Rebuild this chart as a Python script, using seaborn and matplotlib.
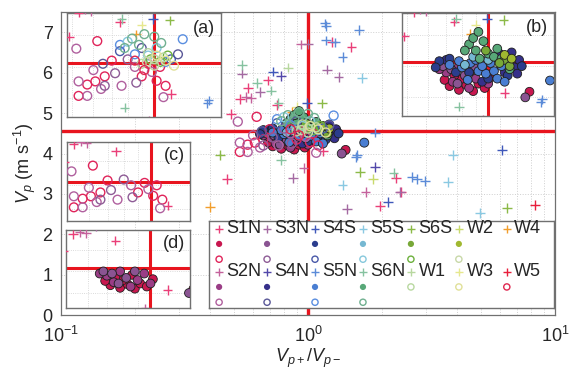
import matplotlib
matplotlib.use("Agg")
import numpy as np
import pandas as pd
import matplotlib.pyplot as plt
import seaborn as sns
from matplotlib.ticker import MultipleLocator, NullFormatter

# stations in legend order (matplotlib-style: 2 rows, filled column-wise)
STATIONS = ["S1N", "S2N", "S3N", "S4N", "S4S", "S5N", "S5S",
            "S6N", "S6S", "W1", "W2", "W3", "W4", "W5"]

PLUS_COLORS = ["#ea3f78", "#c4629c", "#a46aa2", "#5248aa", "#3f58ba", "#5b8bd8", "#8ac9e2",
               "#86c2a0", "#8cba48", "#b8d8a0", "#c8da6c", "#e6e88e", "#f29e2c", "#e81f3c"]
FILL_COLORS = ["#c8174f", "#9a3d86", "#8a5492", "#36308a", "#2b3d8d", "#4a7ed2", "#76b8d2",
               "#58a878", "#78a838", None, "#a0b830", None, None, None]
OPEN_COLORS = ["#e0245a", "#b0609e", "#8e5c96", "#5a5898", "#4858a8", "#5a8ee0", "#86c8dc",
               "#70b090", "#6cb03c", "#b8d8a0", "#c8d8a8", "#e0e098", None, "#e02850"]

RATIO_MEDIAN = 1.0   # Vp+/Vp-
VP_MEDIAN = 4.57     # m/s

# (Vp+/Vp-, Vp)
S1N_PLUS = [(0.53, 5.36), (0.57, 5.63), (0.69, 5.81), (1.25, 6.77), (1.5, 6.63), (0.75, 5.21),
            (2.28, 3.4), (1.96, 2.7), (0.47, 3.37), (2.38, 3.05), (1.15, 4.07), (0.49, 4.98)]
S1N_FILL = [(0.72, 4.18), (0.78, 4.12), (0.83, 4.2), (0.88, 4.1), (0.69, 4.28), (0.92, 4.22),
            (1.42, 4.09), (0.8, 4.3), (0.75, 4.35), (0.97, 4.15), (1.02, 4.32), (0.86, 4.42)]
S1N_OPEN = [(0.62, 4.91), (0.57, 4.22), (0.61, 4.27), (0.53, 4.04), (0.66, 4.35), (0.7, 4.6),
            (0.95, 4.55), (1.05, 4.5), (0.9, 4.35), (1.02, 4.28), (1.1, 4.2)]

S2N_PLUS = [(0.56, 5.41), (0.59, 5.38), (0.94, 6.7), (1.71, 3.05), (0.96, 3.65)]
S2N_FILL = [(0.74, 4.25), (0.7, 4.4), (0.85, 4.15), (0.9, 4.3), (0.66, 4.45), (0.95, 4.45),
            (0.78, 4.5), (1.0, 4.22)]
S2N_OPEN = [(0.53, 4.27), (0.57, 4.04), (0.52, 4.79), (0.64, 4.15), (0.6, 4.45), (0.76, 4.2),
            (0.85, 4.5), (0.98, 4.42), (1.08, 4.02)]

S3N_PLUS = [(0.54, 5.98), (0.64, 5.53), (1.0, 6.72), (1.19, 6.08), (1.33, 5.9), (0.87, 3.4),
            (1.44, 2.63), (2.36, 3.05)]
S3N_FILL = [(0.68, 4.5), (0.73, 4.45), (0.77, 4.22), (0.82, 4.35), (1.37, 4.0), (0.88, 4.5)]
S3N_OPEN = [(0.66, 4.2), (0.72, 4.4), (0.86, 4.25), (0.8, 4.62)]

S4N_PLUS = [(1.87, 3.67), (0.78, 5.93)]
S4N_FILL = [(1.2, 4.55), (1.25, 4.48), (1.3, 4.6), (1.15, 4.4), (1.1, 4.7), (0.7, 4.6),
            (1.28, 4.38), (0.95, 4.25), (1.22, 4.72)]
S4N_OPEN = [(1.22, 4.7), (0.9, 4.8), (0.65, 4.55)]

S4S_PLUS = [(0.72, 6.03), (0.99, 5.26), (2.11, 2.8), (6.1, 4.09)]
S4S_FILL = [(0.66, 4.58), (0.64, 4.48), (0.72, 4.62), (1.18, 4.35), (1.33, 4.5), (1.0, 4.3),
            (0.85, 4.4), (0.76, 4.4)]
S4S_OPEN = [(0.75, 4.75), (1.15, 4.62)]

S5N_PLUS = [(1.17, 7.22), (1.18, 7.15), (1.61, 7.05), (1.18, 6.8), (1.29, 6.75), (1.38, 6.4),
            (1.87, 4.52), (1.58, 3.97), (1.56, 3.92), (2.64, 3.42), (2.77, 3.37), (2.98, 3.32)]
S5N_FILL = [(0.8, 4.48), (0.86, 4.55), (0.92, 4.42), (0.98, 4.38), (0.78, 4.58), (0.9, 4.6),
            (1.05, 4.42), (1.08, 4.3), (1.69, 4.27), (0.84, 4.28), (0.95, 4.5), (1.12, 4.5),
            (0.72, 4.52), (1.15, 4.25), (1.02, 4.55)]
S5N_OPEN = [(0.75, 4.85), (1.27, 4.94), (0.85, 4.7), (1.1, 4.58)]

S5S_PLUS = [(1.66, 5.88), (3.87, 3.97), (3.69, 3.3), (4.97, 2.53), (1.38, 3.23)]
S5S_FILL = [(0.88, 4.65), (1.0, 4.6), (0.82, 4.52)]
S5S_OPEN = [(0.8, 4.9), (0.95, 4.68), (1.02, 4.8)]

S6N_PLUS = [(0.54, 6.2), (0.62, 5.75), (0.71, 5.56), (0.76, 5.26), (0.78, 3.85), (2.22, 3.52)]
S6N_FILL = [(0.85, 4.85), (0.9, 4.75), (0.96, 4.9), (1.0, 4.7), (0.93, 4.62), (1.05, 4.65),
            (0.88, 4.95), (1.08, 4.78), (0.82, 4.75), (0.92, 5.05), (1.12, 4.62), (1.2, 4.45)]
S6N_OPEN = [(0.83, 4.95), (0.92, 5.02), (1.0, 4.98), (0.78, 4.8), (1.06, 4.88), (0.88, 4.85)]

S6S_PLUS = [(1.14, 5.24), (0.44, 3.97), (1.63, 3.55), (6.4, 2.65)]
S6S_FILL = [(1.15, 4.6), (1.2, 4.5), (1.1, 4.55), (0.98, 4.75)]
S6S_OPEN = [(1.05, 4.58), (1.12, 4.68), (0.97, 4.62)]

W1_PLUS = [(0.83, 6.13)]
W1_OPEN = [(0.9, 4.55), (1.0, 4.62), (0.95, 4.72), (1.08, 4.65)]

W2_PLUS = [(1.84, 3.37)]
W2_FILL = [(1.15, 4.68), (1.22, 4.62)]
W2_OPEN = [(0.94, 4.58), (1.0, 4.52)]

W3_PLUS = [(0.9, 5.16)]
W3_OPEN = [(1.1, 4.6), (1.02, 4.68), (1.18, 4.52)]

W4_PLUS = [(0.40, 2.68), (0.86, 5.02)]

W5_PLUS = [(8.3, 2.73)]
W5_OPEN = [(0.92, 4.45), (0.85, 4.6)]

PLUS = [S1N_PLUS, S2N_PLUS, S3N_PLUS, S4N_PLUS, S4S_PLUS, S5N_PLUS, S5S_PLUS,
        S6N_PLUS, S6S_PLUS, W1_PLUS, W2_PLUS, W3_PLUS, W4_PLUS, W5_PLUS]
FILL = [S1N_FILL, S2N_FILL, S3N_FILL, S4N_FILL, S4S_FILL, S5N_FILL, S5S_FILL,
        S6N_FILL, S6S_FILL, [], W2_FILL, [], [], []]
OPEN = [S1N_OPEN, S2N_OPEN, S3N_OPEN, S4N_OPEN, S4S_OPEN, S5N_OPEN, S5S_OPEN,
        S6N_OPEN, S6S_OPEN, W1_OPEN, W2_OPEN, W3_OPEN, [], W5_OPEN]

rows = []
for st, p, f, o in zip(STATIONS, PLUS, FILL, OPEN):
    for kind, pts in (("plus", p), ("fill", f), ("open", o)):
        for x, y in pts:
            rows.append((st, kind, x, y))
df = pd.DataFrame(rows, columns=["station", "kind", "ratio", "vp"])

plus_pal = dict(zip(STATIONS, PLUS_COLORS))
fill_pal = {s: c for s, c in zip(STATIONS, FILL_COLORS) if c}
open_pal = {s: c for s, c in zip(STATIONS, OPEN_COLORS) if c}

RED = "#e8141e"
FRAME = "#707070"
GRID = "#cfcfcf"
FS = 13

sns.set_style("white")
plt.rcParams["font.family"] = ["Liberation Sans", "DejaVu Sans"]
plt.rcParams["mathtext.fontset"] = "custom"
plt.rcParams["mathtext.rm"] = "Liberation Sans"
plt.rcParams["mathtext.it"] = "Liberation Sans:italic"


def draw_points(ax, kinds, stations=STATIONS, s_plus=50, s_circ=42):
    for kind in kinds:
        sub = df[(df["kind"] == kind) & df["station"].isin(stations)]
        if sub.empty:
            continue
        if kind == "plus":
            sns.scatterplot(data=sub, x="ratio", y="vp", hue="station", palette=plus_pal,
                            marker="+", s=s_plus, linewidths=1.0, legend=False, ax=ax, zorder=3)
        elif kind == "fill":
            sns.scatterplot(data=sub, x="ratio", y="vp", hue="station", palette=fill_pal,
                            marker="o", s=s_circ, edgecolor="#1e1e1e", linewidths=0.6,
                            legend=False, ax=ax, zorder=4)
        else:
            sns.scatterplot(data=sub, x="ratio", y="vp", hue="station", palette=open_pal,
                            marker="o", s=s_circ, linewidths=1.0, legend=False, ax=ax, zorder=5)
            coll = ax.collections[-1]
            coll.set_edgecolors(coll.get_facecolors())
            coll.set_facecolors("none")


fig = plt.figure(figsize=(5.74, 3.69), dpi=100)
ax = fig.add_axes([0.106, 0.146, 0.861, 0.821])
ax.set_xscale("log")
ax.set_xlim(0.1, 10)
ax.set_ylim(0, 7.5)
ax.set_yticks(range(8))
ax.grid(True, which="both", axis="x", color=GRID, lw=0.7, ls=":")
ax.grid(True, which="major", axis="y", color=GRID, lw=0.7, ls=":")
ax.axvline(RATIO_MEDIAN, color=RED, lw=2.4, zorder=2)
ax.axhline(VP_MEDIAN, color=RED, lw=2.4, zorder=2)
draw_points(ax, ["plus", "fill", "open"])
ax.set_xlabel(r"$V_{p+}/V_{p-}$", fontsize=FS, labelpad=0)
ax.set_ylabel(r"$V_p$ (m s$^{-1}$)", fontsize=FS, labelpad=3)
ax.tick_params(which="both", direction="in", color=FRAME, labelsize=FS, width=0.8)
ax.tick_params(which="major", length=4)
ax.tick_params(which="minor", length=2)
ax.tick_params(axis="x", pad=8)
ax.tick_params(axis="y", pad=6)
ax.xaxis.set_minor_formatter(NullFormatter())
for sp in ax.spines.values():
    sp.set_color(FRAME)
    sp.set_linewidth(0.9)

# insets: (a) open circles, (b) filled circles, (c)/(d) the same for S1N-S3N
INSETS = [
    ("(a)", [0.012, 0.653, 0.312, 0.343], ["plus", "open"], STATIONS, (0.48, 1.75), (3.7, 5.35)),
    ("(b)", [0.690, 0.657, 0.308, 0.340], ["plus", "fill"], STATIONS, (0.48, 1.75), (3.7, 5.35)),
    ("(c)", [0.012, 0.310, 0.249, 0.261], ["plus", "open"], STATIONS[:3], (0.5, 1.38), (3.75, 5.4)),
    ("(d)", [0.010, 0.023, 0.251, 0.257], ["plus", "fill"], STATIONS[:3], (0.5, 1.38), (3.65, 5.45)),
]
for tag, rect, kinds, sts, xl, yl in INSETS:
    iax = ax.inset_axes(rect)
    iax.set_facecolor("white")
    iax.set_xscale("log")
    iax.set_xlim(*xl)
    iax.set_ylim(*yl)
    iax.yaxis.set_major_locator(MultipleLocator(0.5))
    iax.grid(True, which="both", color=GRID, lw=0.6, ls=":")
    iax.axvline(RATIO_MEDIAN, color=RED, lw=2.2, zorder=2)
    iax.axhline(VP_MEDIAN, color=RED, lw=2.2, zorder=2)
    draw_points(iax, kinds, sts, s_plus=44, s_circ=40)
    iax.set_xlabel("")
    iax.set_ylabel("")
    iax.tick_params(which="both", length=0, labelbottom=False, labelleft=False)
    for sp in iax.spines.values():
        sp.set_color(FRAME)
        sp.set_linewidth(1.0)
    iax.text(0.96, 0.94, tag, transform=iax.transAxes, ha="right", va="top", fontsize=FS,
             zorder=10)

# legend: three stacked markers (plus, filled, open) per station
lax = ax.inset_axes([0.300, 0.023, 0.698, 0.287])
lax.set_zorder(6)
lax.set_xlim(0, 1)
lax.set_ylim(0, 1)
lax.set_xticks([])
lax.set_yticks([])
for sp in lax.spines.values():
    sp.set_color(FRAME)
    sp.set_linewidth(1.0)
for i, st in enumerate(STATIONS):
    col, row = divmod(i, 2)
    x0 = 0.029 + col * 0.139
    ytop = 0.915 - row * 0.495
    k = 0
    lax.scatter([x0], [ytop - k * 0.176], marker="+", s=34, linewidths=1.0, color=PLUS_COLORS[i])
    if FILL_COLORS[i]:
        k += 1
        lax.scatter([x0], [ytop - k * 0.176], marker="o", s=20, color=FILL_COLORS[i],
                    edgecolor="none")
    if OPEN_COLORS[i]:
        k += 1
        lax.scatter([x0], [ytop - k * 0.176], marker="o", s=20, facecolor="none",
                    edgecolor=OPEN_COLORS[i], linewidths=1.0)
    lax.text(x0 + 0.022, ytop, st, ha="left", va="center", fontsize=FS)

fig.savefig("out.png", dpi=100)
